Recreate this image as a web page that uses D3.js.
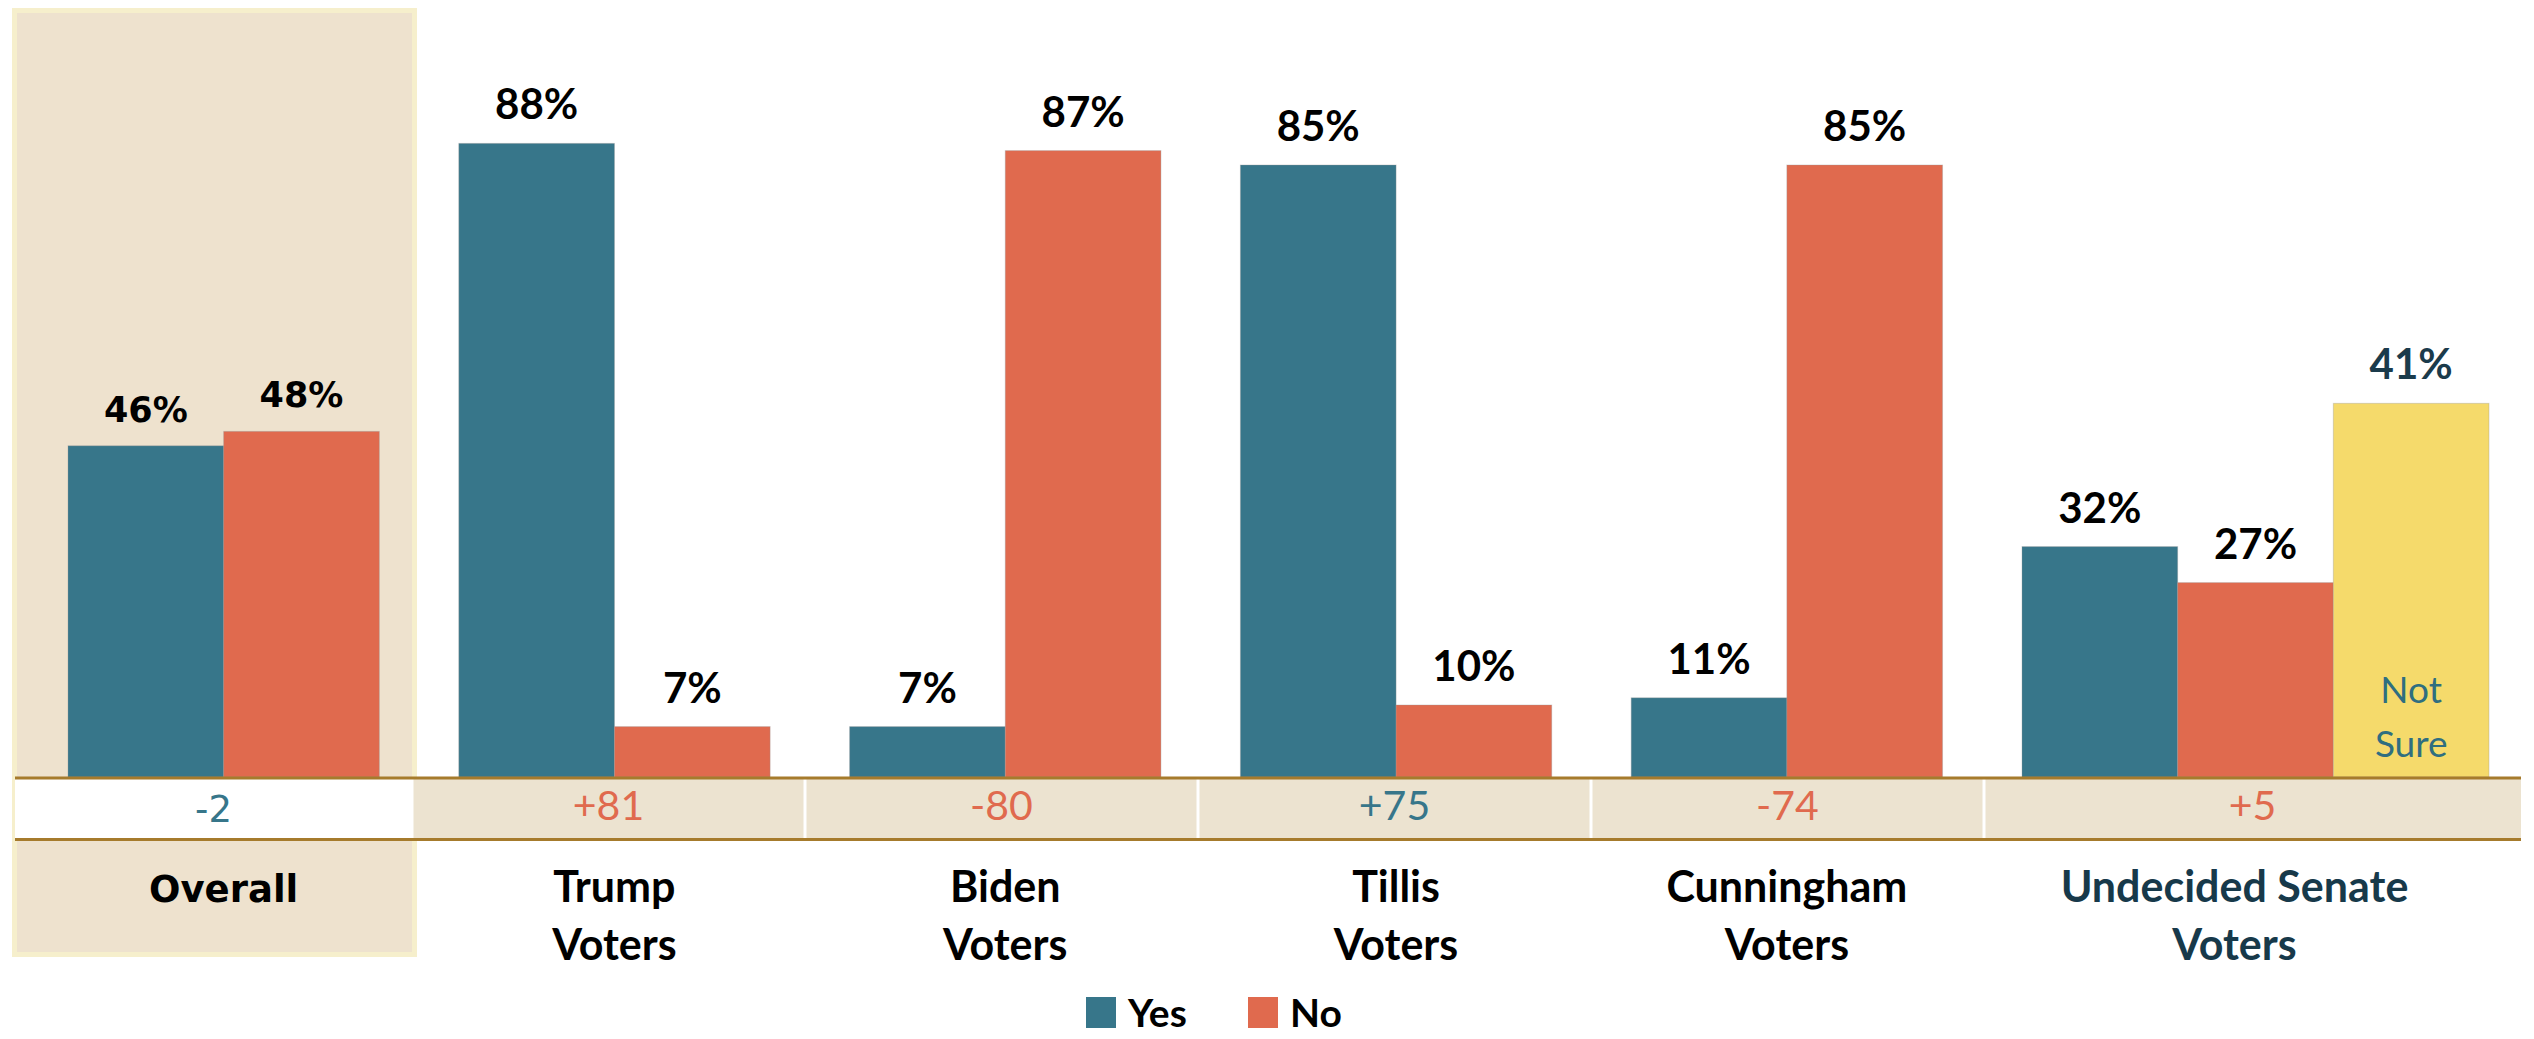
<!DOCTYPE html>
<html>
<head>
<meta charset="utf-8">
<script src="https://cdn.jsdelivr.net/npm/d3@7"></script>
<style>
  html, body { margin: 0; padding: 0; background: #ffffff; }
  svg { display: block; }
</style>
</head>
<body>
<script>
// ---------------- DATA ----------------
const categories = ["Overall", "Trump Voters", "Biden Voters", "Tillis Voters", "Cunningham Voters", "Undecided Senate Voters"];
const categoryLines = [["Overall"], ["Trump", "Voters"], ["Biden", "Voters"], ["Tillis", "Voters"], ["Cunningham", "Voters"], ["Undecided Senate", "Voters"]];
const series = ["Yes", "No", "Not Sure"];
const yesValues = [46, 88, 7, 85, 11, 32];
const noValues = [48, 7, 87, 10, 85, 27];
const notSureValues = [null, null, null, null, null, 41];
const netValues = [-2, 81, -80, 75, -74, 5];
const netColorSeries = ["Yes", "No", "No", "Yes", "No", "No"];
const legendItems = ["Yes", "No"];
const notSureLabel = ["Not", "Sure"];

// ---------------- SETUP ----------------
const W = 2534, H = 1039;
const baseY = 777, bandBottom = 840;
const colors = { "Yes": "#37768A", "No": "#E06A4E", "Not Sure": "#F5DA6B" };
const calibri = "Lato, 'Open Sans', sans-serif";
const verdana = "'DejaVu Sans', Verdana, sans-serif";

const svg = d3.select("body").append("svg").attr("width", W).attr("height", H);

const xCell = d3.scaleBand().domain(categories).range([19, 19 + 6 * 393]).padding(0);
const xGroup = d3.scaleBand().domain(categories).range([68, 68 + 6 * 390.8]).padding(0);
const xSub = d3.scaleBand().domain(series).range([0, 467]).padding(0);
const y = d3.scaleLinear().domain([0, 100]).range([baseY, 57]);
const y2 = d3.scaleLinear().domain([0, 79]).range([baseY, 57]); // secondary axis for "Not Sure"
const loc = d3.formatLocale({ decimal: ".", thousands: ",", grouping: [3], currency: ["$", ""], minus: "-" });
const fmtNet = loc.format("+d");
const fmtNetPlain = loc.format("d");

const rows = categories.map((c, i) => ({
  cat: c, i,
  values: [
    { s: "Yes", v: yesValues[i], scale: y },
    { s: "No", v: noValues[i], scale: y },
    { s: "Not Sure", v: notSureValues[i], scale: y2 }
  ].filter(d => d.v != null)
}));

// Overall highlight panel
svg.append("rect")
  .attr("x", 14.5).attr("y", 10.5)
  .attr("width", xCell(categories[1]) + 2.5 - 14.5).attr("height", 944)
  .attr("fill", "#EEE2CE").attr("stroke", "#F6EFCC").attr("stroke-width", 5);

// Net band
const bandLeft = 15, bandRight = 2521;
svg.append("rect").attr("x", bandLeft).attr("y", baseY).attr("width", bandRight - bandLeft)
  .attr("height", bandBottom - baseY).attr("fill", "#ECE3D0");
svg.append("rect").attr("x", bandLeft).attr("y", baseY)
  .attr("width", xCell(categories[1]) - bandLeft).attr("height", bandBottom - baseY).attr("fill", "#ffffff");
svg.selectAll("line.sep").data(categories.slice(1)).join("line")
  .attr("class", "sep")
  .attr("x1", d => xCell(d)).attr("x2", d => xCell(d))
  .attr("y1", baseY).attr("y2", bandBottom)
  .attr("stroke", "#ffffff").attr("stroke-width", 3);

// Bars
const groups = svg.selectAll("g.grp").data(rows).join("g")
  .attr("class", "grp")
  .attr("transform", d => `translate(${xGroup(d.cat)},0)`);

groups.selectAll("rect.bar").data(d => d.values).join("rect")
  .attr("class", "bar")
  .attr("x", d => xSub(d.s))
  .attr("y", d => d.scale(d.v))
  .attr("width", xSub.bandwidth())
  .attr("height", d => baseY - d.scale(d.v))
  .attr("fill", d => colors[d.s])
  .attr("stroke", "rgba(150,150,150,0.35)").attr("stroke-width", 1);

// Value labels
groups.selectAll("text.val").data(d => d.values.map(v => ({ ...v, i: d.i }))).join("text")
  .attr("class", "val")
  .attr("x", d => xSub(d.s) + xSub.bandwidth() / 2)
  .attr("y", d => d.scale(d.v) - 24)
  .attr("text-anchor", "middle")
  .attr("font-family", d => d.i === 0 ? verdana : calibri)
  .attr("font-weight", "bold")
  .attr("font-size", d => d.i === 0 ? 35 : 42)
  .attr("fill", d => d.s === "Not Sure" ? "#1B3B4B" : "#000000")
  .text(d => d.v + "%");

// "Not Sure" inner label
rows.forEach(r => {
  r.values.filter(d => d.s === "Not Sure").forEach(d => {
    const cx = xGroup(r.cat) + xSub(d.s) + xSub.bandwidth() / 2;
    svg.append("text")
      .attr("x", cx).attr("text-anchor", "middle")
      .attr("font-family", calibri).attr("font-size", 37).attr("fill", "#2F6E80")
      .selectAll("tspan").data(notSureLabel).join("tspan")
      .attr("x", cx).attr("y", (t, k) => 703 + k * 54)
      .text(t => t);
  });
});

// Gold lines
[baseY + 1, bandBottom - 0.5].forEach(yy => {
  svg.append("line").attr("x1", bandLeft).attr("x2", bandRight)
    .attr("y1", yy).attr("y2", yy)
    .attr("stroke", "#A67B2C").attr("stroke-width", 3);
});

// Net values
svg.selectAll("text.net").data(categories).join("text")
  .attr("class", "net")
  .attr("x", (d, i) => i === 0 ? (bandLeft + xCell(categories[1])) / 2 : (i === categories.length - 1 ? (xCell(d) + bandRight) / 2 : xCell(d) + xCell.bandwidth() / 2))
  .attr("y", (d, i) => i === 0 ? 822 : 820)
  .attr("text-anchor", "middle")
  .attr("font-family", (d, i) => i === 0 ? verdana : calibri)
  .attr("font-size", (d, i) => i === 0 ? 37 : 41)
  .attr("fill", (d, i) => colors[netColorSeries[i]])
  .text((d, i) => i === 0 ? fmtNetPlain(netValues[i]) : fmtNet(netValues[i]));

// Category labels
svg.selectAll("text.cat").data(categories).join("text")
  .attr("class", "cat")
  .attr("text-anchor", "middle")
  .attr("font-weight", "bold")
  .attr("font-family", (d, i) => i === 0 ? verdana : calibri)
  .attr("font-size", (d, i) => i === 0 ? 37 : 43)
  .attr("fill", (d, i) => i === categories.length - 1 ? "#17394A" : "#000000")
  .each(function (d, i) {
    const cx = i === categories.length - 1
      ? (xCell(d) + bandRight) / 2 - 18
      : xGroup(d) + xSub.bandwidth();
    d3.select(this).selectAll("tspan").data(categoryLines[i]).join("tspan")
      .attr("x", cx).attr("y", (t, k) => 902 + k * 58)
      .text(t => t);
  });

// Legend
const legendX = { "Yes": 1086, "No": 1248 };
const lg = svg.selectAll("g.lg").data(legendItems).join("g").attr("class", "lg")
  .attr("transform", d => `translate(${legendX[d]},997)`);
lg.append("rect").attr("width", 30).attr("height", 31).attr("fill", d => colors[d]);
lg.append("text").attr("x", 42).attr("y", 30)
  .attr("font-family", calibri).attr("font-weight", "bold").attr("font-size", 39)
  .attr("fill", "#000").text(d => d);
</script>
</body>
</html>
